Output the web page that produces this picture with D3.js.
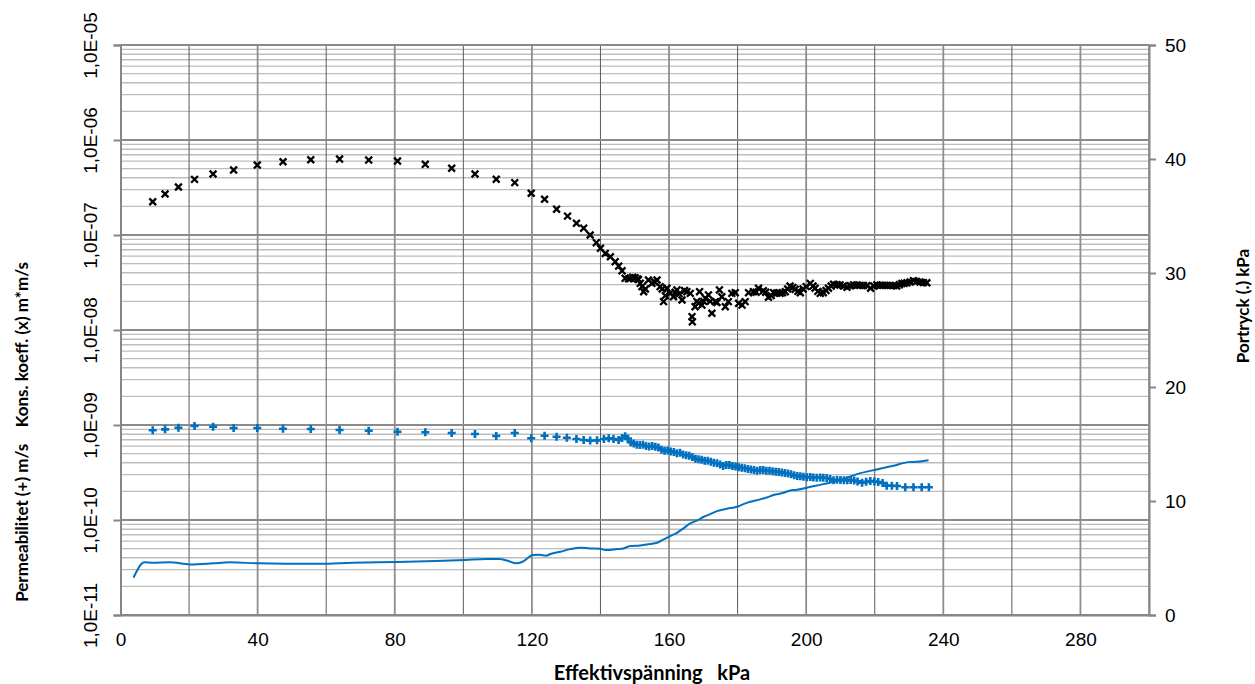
<!DOCTYPE html>
<html>
<head>
<meta charset="utf-8">
<script src="https://cdn.jsdelivr.net/npm/d3@7"></script>
<style>
  html, body { margin: 0; padding: 0; background: #fff; }
  svg { display: block; font-family: Lato, "Open Sans", sans-serif; }
</style>
</head>
<body>
<svg id="chart" width="1255" height="684"></svg>
<script>
// Effective stress axis ticks (kPa)
const xTickLabels = [0, 40, 80, 120, 160, 200, 240, 280];
const leftTickLabels = ["1,0E-11", "1,0E-10", "1,0E-09", "1,0E-08", "1,0E-07", "1,0E-06", "1,0E-05"];
const rightTickLabels = [0, 10, 20, 30, 40, 50];

// Permeability (+), m/s
const permStress = [9.4, 13, 16.9, 21.6, 27, 33, 39.9, 47.4, 55.5, 63.9, 72.4, 80.8, 88.9, 96.6, 103.4, 109.6, 115, 119.8, 123.7, 127.2,
  130.2, 133, 135.1, 137, 139, 141, 142.4, 143.8, 145.3, 146.3, 147.2, 148, 148.8, 149.7, 150.6, 151.5, 152.4, 153.3, 154.2, 155.1,
  156, 156.9, 157.8, 158.7, 159.6, 160.5, 161.4, 162.3, 163.2, 164.1, 165, 165.9, 166.8, 167.7, 168.6, 169.5, 170.4, 171.3, 172.2, 173.1,
  174, 174.9, 175.8, 176.7, 177.6, 178.5, 179.4, 180.3, 181.2, 182.1, 183, 183.9, 184.8, 185.7, 186.6, 187.5, 188.4, 189.3, 190.2, 191.1,
  192, 192.9, 193.8, 194.7, 195.6, 196.5, 197.4, 198.3, 199.2, 200.2, 201.2, 202.1, 203.1, 204.1, 205, 206, 207, 208, 209, 210,
  211, 212, 213, 214, 215, 216.3, 217.5, 218.7, 219.9, 221, 222.3, 223.5, 225, 226.5, 228.9, 231.3, 233.7, 235.8];
const permValues = [8.8e-10, 9.0e-10, 9.37e-10, 9.76e-10, 9.6e-10, 9.3e-10, 9.3e-10, 9.14e-10, 9.08e-10, 8.86e-10, 8.71e-10, 8.5e-10, 8.38e-10, 8.24e-10, 8.04e-10, 7.66e-10, 8.24e-10, 7.24e-10, 7.71e-10, 7.53e-10,
  7.35e-10, 7.12e-10, 6.95e-10, 6.85e-10, 6.89e-10, 7.12e-10, 7.24e-10, 7.12e-10, 6.95e-10, 7.3e-10, 7.6e-10, 7.2e-10, 6.6e-10, 6.4e-10, 6.2e-10, 6.15e-10, 6.2e-10, 6.0e-10, 5.95e-10, 6.0e-10,
  5.9e-10, 5.8e-10, 5.5e-10, 5.35e-10, 5.4e-10, 5.25e-10, 5.2e-10, 5.05e-10, 5.1e-10, 4.9e-10, 4.8e-10, 4.75e-10, 4.6e-10, 4.4e-10, 4.35e-10, 4.3e-10, 4.2e-10, 4.2e-10, 4.1e-10, 4.0e-10,
  3.95e-10, 3.85e-10, 3.7e-10, 3.8e-10, 3.8e-10, 3.7e-10, 3.65e-10, 3.6e-10, 3.55e-10, 3.5e-10, 3.45e-10, 3.4e-10, 3.35e-10, 3.3e-10, 3.35e-10, 3.35e-10, 3.3e-10, 3.3e-10, 3.25e-10, 3.22e-10,
  3.2e-10, 3.17e-10, 3.12e-10, 3.08e-10, 3.03e-10, 2.95e-10, 2.9e-10, 2.88e-10, 2.86e-10, 2.82e-10, 2.83e-10, 2.8e-10, 2.79e-10, 2.8e-10, 2.78e-10, 2.77e-10, 2.7e-10, 2.62e-10, 2.65e-10, 2.63e-10,
  2.62e-10, 2.62e-10, 2.63e-10, 2.6e-10, 2.55e-10, 2.47e-10, 2.52e-10, 2.57e-10, 2.54e-10, 2.51e-10, 2.45e-10, 2.3e-10, 2.29e-10, 2.28e-10, 2.21e-10, 2.21e-10, 2.21e-10, 2.21e-10];

// Consolidation coefficient (x), m*m/s
const konsStress = [9.4, 13, 16.9, 21.6, 27, 33, 39.9, 47.4, 55.5, 63.9, 72.4, 80.8, 88.9, 96.6, 103.4, 109.6, 115, 119.8, 123.7, 127.2,
  130.4, 133, 135.1, 137, 138.8, 140, 141.4, 142.9, 144.3, 145.3, 146.3, 147.2, 148.2, 148.7, 149.4, 150.1, 150.8, 151.1, 151.6, 152.1,
  152.6, 153.1, 154, 155, 155.8, 156.5, 157.4, 158, 158.4, 158.9, 159.4, 160.3, 161.3, 161.8, 162.3, 163, 163.8, 164.5, 165.2, 166.2,
  166.7, 166.8, 167.6, 168.1, 168.6, 168.9, 169.6, 170.1, 170.6, 171.5, 172, 172.5, 173.5, 174, 174.7, 175.4, 176.4, 177.3, 178.3, 179.3,
  180.3, 181.3, 182.2, 183.2, 184.6, 185.4, 186.1, 187.5, 188.2, 189, 189.8, 190.5, 191.4, 192.4, 193.1, 193.9, 194.6, 195.3, 196.1, 196.8,
  197.6, 198.3, 199.1, 200, 201.2, 202, 202.6, 203.4, 204.1, 205, 205.8, 206.5, 207.3, 208, 209, 209.9, 210.9, 211.9, 212.9, 213.8,
  214.8, 215.7, 216.7, 217.7, 218.8, 219.7, 220.6, 221.6, 222.5, 223.5, 224.5, 225.5, 226.4, 227.2, 227.9, 228.6, 229.4, 230.3, 231.3, 232.2,
  233.2, 234.2, 235.2];
const konsValues = [2.24e-7, 2.7e-7, 3.2e-7, 3.85e-7, 4.39e-7, 4.83e-7, 5.45e-7, 5.9e-7, 6.2e-7, 6.3e-7, 6.15e-7, 6.0e-7, 5.55e-7, 5.04e-7, 4.39e-7, 3.86e-7, 3.56e-7, 2.75e-7, 2.38e-7, 1.87e-7,
  1.58e-7, 1.33e-7, 1.18e-7, 1.0e-7, 8.3e-8, 7.25e-8, 6.4e-8, 5.9e-8, 5.24e-8, 4.7e-8, 4.2e-8, 3.5e-8, 3.45e-8, 3.5e-8, 3.6e-8, 3.55e-8, 3.45e-8, 3.39e-8, 3.1e-8, 2.86e-8,
  2.53e-8, 2.7e-8, 3.36e-8, 3.1e-8, 3.2e-8, 3.36e-8, 2.86e-8, 2.7e-8, 1.99e-8, 2.3e-8, 2.75e-8, 2.43e-8, 2.24e-8, 2.5e-8, 2.64e-8, 2.4e-8, 2.07e-8, 2.6e-8, 2.53e-8, 2.43e-8,
  1.38e-8, 1.22e-8, 1.76e-8, 2.0e-8, 1.91e-8, 2.53e-8, 1.83e-8, 2.0e-8, 2.16e-8, 2.34e-8, 2.0e-8, 1.5e-8, 1.99e-8, 1.95e-8, 2.64e-8, 2.24e-8, 1.76e-8, 1.99e-8, 2.43e-8, 2.47e-8,
  1.91e-8, 1.83e-8, 1.99e-8, 2.47e-8, 2.53e-8, 2.5e-8, 2.75e-8, 2.59e-8, 2.5e-8, 2.21e-8, 2.3e-8, 2.47e-8, 2.45e-8, 2.43e-8, 2.47e-8, 2.53e-8, 2.7e-8, 2.9e-8, 2.8e-8, 2.68e-8,
  2.55e-8, 2.47e-8, 2.7e-8, 2.86e-8, 3.09e-8, 2.9e-8, 2.75e-8, 2.55e-8, 2.43e-8, 2.47e-8, 2.6e-8, 2.75e-8, 2.9e-8, 3.03e-8, 3.0e-8, 2.98e-8, 2.9e-8, 2.82e-8, 2.92e-8, 2.98e-8,
  2.97e-8, 2.95e-8, 2.94e-8, 2.93e-8, 2.75e-8, 2.9e-8, 2.98e-8, 2.96e-8, 2.95e-8, 2.95e-8, 2.95e-8, 2.93e-8, 2.91e-8, 3.0e-8, 3.09e-8, 3.1e-8, 3.14e-8, 3.2e-8, 3.31e-8, 3.25e-8,
  3.2e-8, 3.15e-8, 3.14e-8];

// Pore pressure (.), kPa
const portStress = [3.8, 5, 6, 7, 9.4, 14.3, 20.3, 26.9, 31.8, 40.3, 48.3, 58, 67.7, 80.4, 92, 100.5, 106.6, 110.5, 112.9, 115.4,
  117.3, 120.3, 122.2, 124.1, 125.4, 128.3, 131.2, 134.1, 137, 139.9, 141.4, 144.8, 146.7, 148.7, 151.6, 154.5, 156.5, 158.4, 160.3, 162.3,
  164.2, 166.2, 168.1, 170.1, 172, 174, 176.9, 179.8, 181.7, 183.7, 186.6, 188.5, 190.5, 193.4, 195.3, 197.3, 200.2, 205, 209.9, 214.8,
  220.6, 225.5, 229.8, 232.3, 235.7];
const portValues = [3.27, 4.0, 4.45, 4.62, 4.59, 4.62, 4.44, 4.53, 4.62, 4.53, 4.5, 4.5, 4.59, 4.65, 4.73, 4.82, 4.91, 4.91, 4.76, 4.53,
  4.67, 5.26, 5.28, 5.2, 5.35, 5.55, 5.78, 5.9, 5.84, 5.81, 5.7, 5.78, 5.84, 6.05, 6.1, 6.22, 6.34, 6.63, 6.92, 7.21,
  7.6, 8.04, 8.27, 8.62, 8.85, 9.11, 9.32, 9.49, 9.73, 9.93, 10.14, 10.31, 10.52, 10.72, 10.92, 10.98, 11.17, 11.48, 11.83, 12.36,
  12.77, 13.09, 13.41, 13.44, 13.58];

const svg = d3.select("#chart");
const plotLeft = 120.5, plotRight = 1149, plotTop = 45, plotBottom = 615;

const x = d3.scaleLinear().domain([0, 300]).range([plotLeft, plotRight]);
const yLog = d3.scaleLog().domain([1e-11, 1e-5]).range([plotBottom, plotTop]);
const yPort = d3.scaleLinear().domain([0, 50]).range([plotBottom, plotTop]);

const grid = svg.append("g");

// minor horizontal grid (2..9 in every decade)
const logTicks = yLog.ticks();
const isDecade = v => Math.abs(Math.log10(v) - Math.round(Math.log10(v))) < 1e-9;
const decades = logTicks.filter(isDecade);
grid.append("g").selectAll("line").data(logTicks.filter(v => !isDecade(v))).join("line")
  .attr("x1", plotLeft).attr("x2", plotRight)
  .attr("y1", d => yLog(d)).attr("y2", d => yLog(d))
  .attr("stroke", "#bdbdbd").attr("stroke-width", 1.4);

// vertical grid every 20 kPa
const xGrid = d3.range(20, 301, 20);
grid.append("g").selectAll("line").data(xGrid).join("line")
  .attr("x1", d => x(d)).attr("x2", d => x(d))
  .attr("y1", plotTop).attr("y2", plotBottom)
  .attr("stroke", d => d % 40 === 0 ? "#8e8e8e" : "#5a5a5a")
  .attr("stroke-width", d => d % 40 === 0 ? 1.8 : 1);

// decade grid lines
grid.append("g").selectAll("line").data(decades).join("line")
  .attr("x1", plotLeft).attr("x2", plotRight)
  .attr("y1", d => yLog(d)).attr("y2", d => yLog(d))
  .attr("stroke", "#8a8a8a").attr("stroke-width", 2);

// axes
const axisColor = "#868686";
const tickFont = 19;
const leftAxis = svg.append("g").attr("transform", `translate(${plotLeft},0)`)
  .call(d3.axisLeft(yLog).tickValues(decades).tickSize(7).tickFormat((d, i) => leftTickLabels[i]));
leftAxis.select(".domain").attr("stroke", axisColor).attr("stroke-width", 2);
leftAxis.selectAll(".tick line").attr("stroke", axisColor).attr("stroke-width", 2);
leftAxis.selectAll(".tick text")
  .attr("x", null).attr("dy", "0.35em")
  .attr("transform", "translate(-30,0) rotate(-90)")
  .attr("text-anchor", "middle")
  .attr("fill", "#000").attr("font-size", tickFont);

const rightAxis = svg.append("g").attr("transform", `translate(${plotRight},0)`)
  .call(d3.axisRight(yPort).tickValues(rightTickLabels).tickSize(7).tickPadding(9));
rightAxis.select(".domain").attr("stroke", axisColor).attr("stroke-width", 2);
rightAxis.selectAll(".tick line").attr("stroke", axisColor).attr("stroke-width", 2);
rightAxis.selectAll(".tick text").attr("fill", "#000").attr("font-size", tickFont);

const bottomAxis = svg.append("g").attr("transform", `translate(0,${plotBottom})`)
  .call(d3.axisBottom(x).tickValues(xTickLabels).tickSize(0).tickPadding(18));
bottomAxis.select(".domain").attr("stroke", axisColor).attr("stroke-width", 2);
bottomAxis.selectAll(".tick text").attr("fill", "#000").attr("font-size", tickFont);

// titles
svg.append("text")
  .attr("transform", "translate(28,432) rotate(-90)")
  .attr("text-anchor", "middle").attr("font-weight", "bold").attr("font-size", 17)
  .attr("xml:space", "preserve")
  .text("Permeabilitet (+) m/s    Kons. koeff. (x) m*m/s");
svg.append("text")
  .attr("transform", "translate(1249,306) rotate(-90)")
  .attr("text-anchor", "middle").attr("font-weight", "bold").attr("font-size", 17)
  .text("Portryck (.) kPa");
svg.append("text")
  .attr("x", 652).attr("y", 680)
  .attr("text-anchor", "middle").attr("font-weight", "bold").attr("font-size", 20)
  .attr("xml:space", "preserve")
  .text("Effektivspänning   kPa");

const blue = "#0070c0";

// pore pressure line
svg.append("path")
  .datum(portStress.map((s, i) => [s, portValues[i]]))
  .attr("fill", "none").attr("stroke", blue).attr("stroke-width", 2)
  .attr("stroke-linejoin", "round")
  .attr("d", d3.line().x(d => x(d[0])).y(d => yPort(d[1])).curve(d3.curveMonotoneX));

// permeability markers (+)
svg.append("g").selectAll("path").data(permStress.map((s, i) => [s, permValues[i]])).join("path")
  .attr("transform", d => `translate(${x(d[0])},${yLog(d[1])})`)
  .attr("d", "M-4,0H4M0,-4V4")
  .attr("stroke", blue).attr("stroke-width", 2.6).attr("fill", "none");

// consolidation coefficient markers (x)
svg.append("g").selectAll("path").data(konsStress.map((s, i) => [s, konsValues[i]])).join("path")
  .attr("transform", d => `translate(${x(d[0])},${yLog(d[1])})`)
  .attr("d", "M-3.4,-3.4L3.4,3.4M-3.4,3.4L3.4,-3.4")
  .attr("stroke", "#000").attr("stroke-width", 2.3).attr("fill", "none");
</script>
</body>
</html>
